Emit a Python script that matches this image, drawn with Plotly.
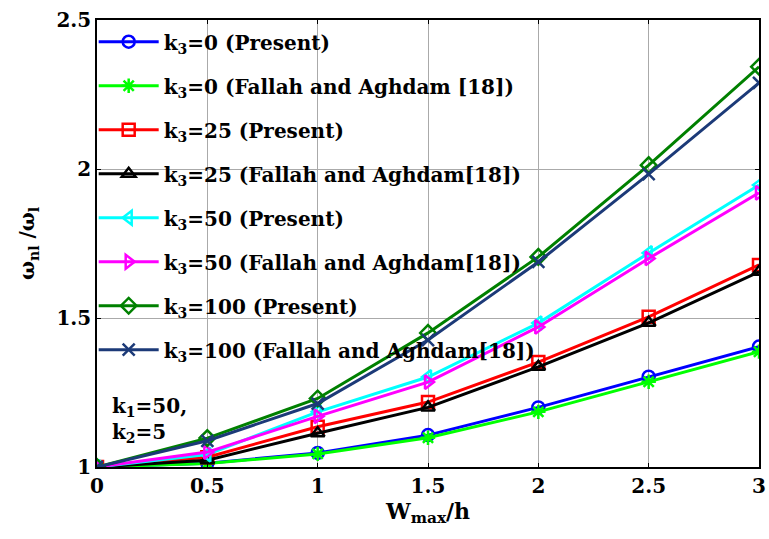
import plotly.graph_objects as go

# Deflection amplitude ratio W_max/h
w_ratio = [0, 0.5, 1, 1.5, 2, 2.5, 3]
x_labels = ["0", "0.5", "1", "1.5", "2", "2.5", "3"]
y_ticks = [1, 1.5, 2, 2.5]
y_labels = ["1", "1.5", "2", "2.5"]

# Nonlinear-to-linear frequency ratio for each k3
k0_present = [1.0, 1.013, 1.047, 1.107, 1.200, 1.303, 1.404]
k0_fallah = [1.0, 1.012, 1.044, 1.098, 1.185, 1.286, 1.387]
k25_present = [1.0, 1.033, 1.135, 1.218, 1.352, 1.504, 1.678]
k25_fallah = [1.0, 1.023, 1.113, 1.200, 1.336, 1.484, 1.655]
k50_present = [1.0, 1.042, 1.185, 1.302, 1.483, 1.718, 1.946]
k50_fallah = [1.0, 1.050, 1.170, 1.285, 1.470, 1.700, 1.920]
k100_present = [1.0, 1.097, 1.230, 1.450, 1.705, 2.013, 2.343]
k100_fallah = [1.0, 1.088, 1.213, 1.426, 1.688, 1.983, 2.289]

series = [
    ("k<sub>3</sub>=0 (Present)", k0_present, "#0000FF", "circle-open"),
    ("k<sub>3</sub>=0 (Fallah and Aghdam [18])", k0_fallah, "#00FF00", "asterisk-open"),
    ("k<sub>3</sub>=25 (Present)", k25_present, "#FF0000", "square-open"),
    ("k<sub>3</sub>=25 (Fallah and Aghdam[18])", k25_fallah, "#000000", "triangle-up-open"),
    ("k<sub>3</sub>=50 (Present)", k50_present, "#00FFFF", "triangle-left-open"),
    ("k<sub>3</sub>=50 (Fallah and Aghdam[18])", k50_fallah, "#FF00FF", "triangle-right-open"),
    ("k<sub>3</sub>=100 (Present)", k100_present, "#008000", "diamond-open"),
    ("k<sub>3</sub>=100 (Fallah and Aghdam[18])", k100_fallah, "#1C3A78", "x-thin-open"),
]

FONT = "DejaVu Serif"

fig = go.Figure()
for i, (name, vals, color, symbol) in enumerate(series):
    fig.add_trace(go.Scatter(
        x=w_ratio, y=vals, name=name, mode="lines+markers",
        legendgroup=f"g{i}",
        line=dict(color=color, width=3),
        marker=dict(symbol=symbol, size=12, color=color,
                    line=dict(color=color, width=2.5)),
    ))

axis_common = dict(
    showline=True, linecolor="black", linewidth=1.5, mirror="allticks",
    ticks="inside", ticklen=4, tickcolor="black",
    showgrid=True, gridcolor="#AAAAAA", gridwidth=1,
    zeroline=False, ticklabeloverflow="allow",
    tickfont=dict(family=FONT, size=20, color="black", weight="bold"),
)

fig.update_xaxes(range=[0, 3], tickvals=w_ratio, ticktext=x_labels,
                 title=dict(text="W<sub>max</sub>/h", standoff=6,
                            font=dict(family=FONT, size=22, color="black", weight="bold")),
                 **axis_common)
fig.update_yaxes(range=[1, 2.5], tickvals=y_ticks, ticktext=y_labels,
                 title=dict(text="ω<sub>nl</sub> /ω<sub>l</sub>", standoff=16,
                            font=dict(family=FONT, size=20, color="black", weight="bold")),
                 **axis_common)

fig.add_annotation(
    xref="paper", yref="paper", x=0.02, y=0.105, xanchor="left", yanchor="middle",
    text="k<sub>1</sub>=50,<br>k<sub>2</sub>=5", showarrow=False, align="left",
    font=dict(family=FONT, size=20, color="black", weight="bold"),
)

fig.update_layout(
    width=769, height=539,
    margin=dict(l=97, r=3, t=20, b=72),
    plot_bgcolor="white", paper_bgcolor="white",
    showlegend=True,
    legend=dict(
        x=-0.005, y=0.995, xanchor="left", yanchor="top",
        bgcolor="rgba(0,0,0,0)", borderwidth=0,
        font=dict(family=FONT, size=20, color="black", weight="bold"),
        tracegroupgap=15, itemwidth=60,
    ),
)

fig.write_html("out.html")
